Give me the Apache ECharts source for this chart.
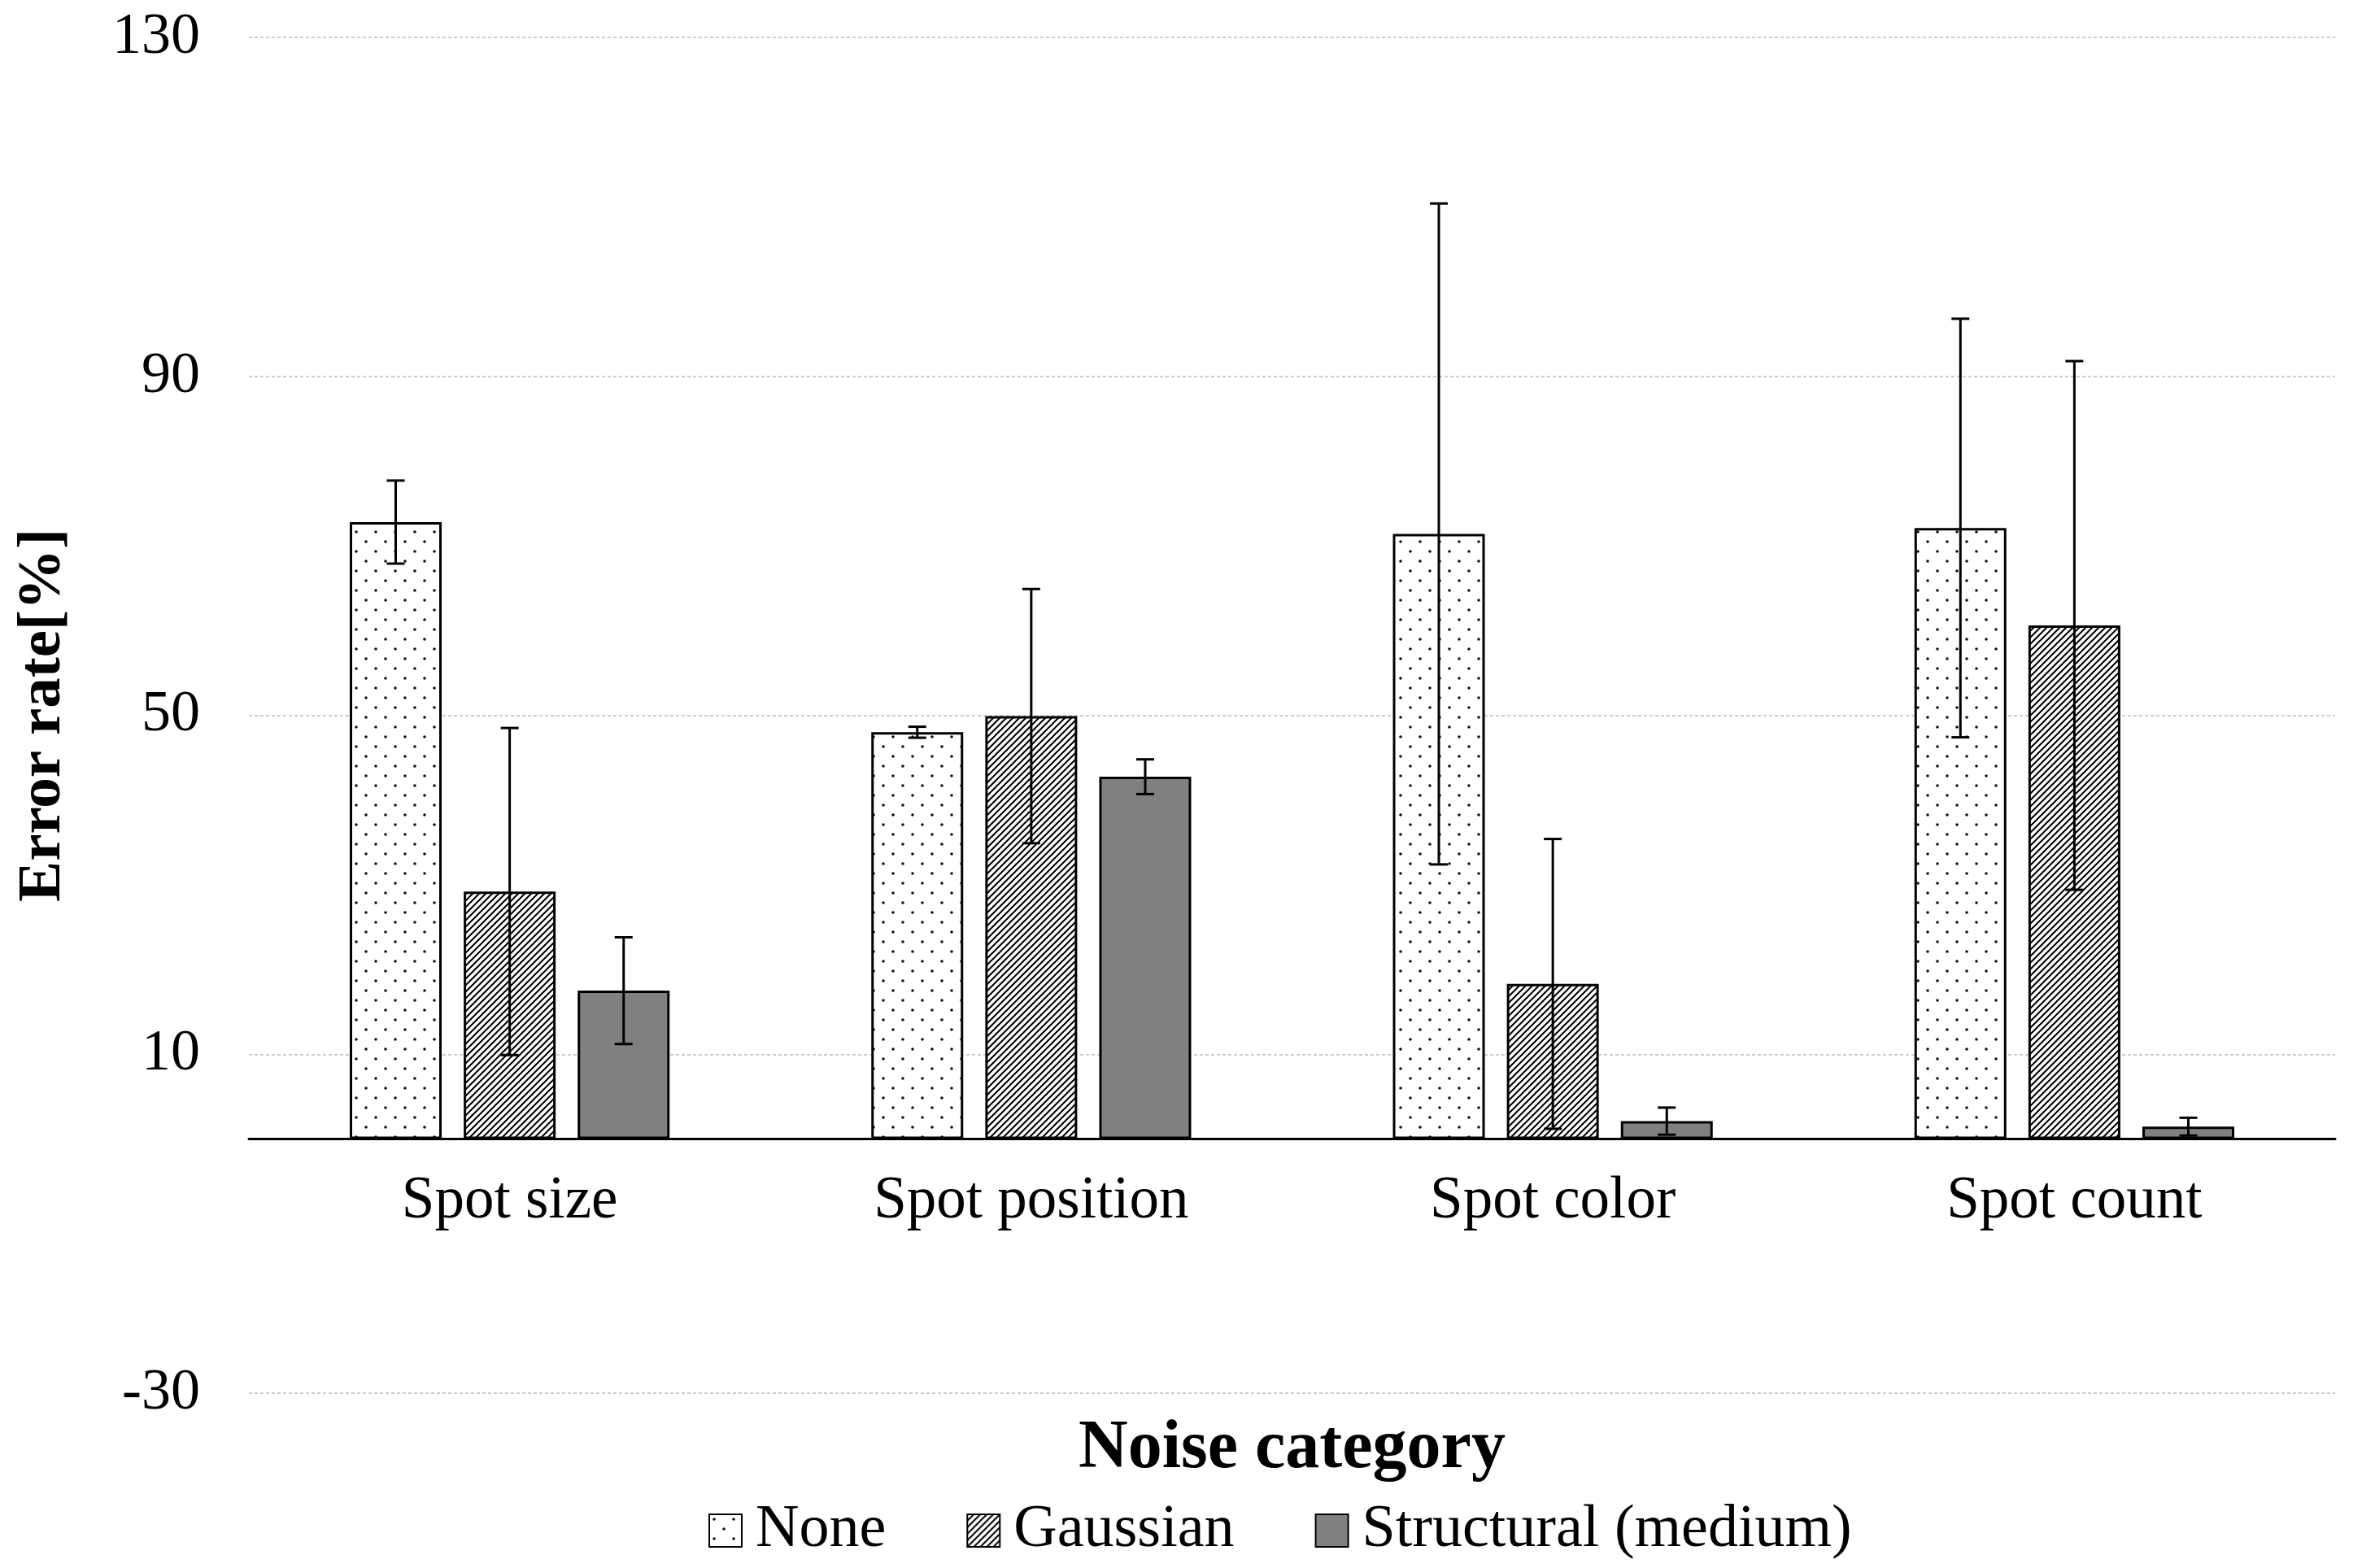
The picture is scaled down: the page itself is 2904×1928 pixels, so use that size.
<!DOCTYPE html>
<html><head><meta charset="utf-8">
<script src="https://cdn.jsdelivr.net/npm/echarts@6/dist/echarts.min.js"></script>
<style>html,body{margin:0;padding:0;background:#fff}#c{width:2904px;height:1928px}</style>
</head><body><div id="c"></div>
<script>
// ---- data ----
const categories = ['Spot size', 'Spot position', 'Spot color', 'Spot count'];
const seriesNames = ['None', 'Gaussian', 'Structural (medium)'];
const noneMean = [72.8, 48.0, 71.4, 72.1];
const noneErr = [4.9, 0.65, 39.0, 24.7];
const gaussMean = [29.2, 49.9, 18.3, 60.6];
const gaussErr = [19.3, 15.0, 17.1, 31.2];
const structMean = [17.5, 42.75, 2.1, 1.45];
const structErr = [6.3, 2.05, 1.6, 1.05];
const yTicks = [-30, 10, 50, 90, 130];

// ---- styles ----
const FONT = '"Liberation Serif", "Times New Roman", serif';
const BAR_W = 113;
const BAR_GAP = '24%';

function dotPattern() {
  const c = document.createElement('canvas'); c.width = 24; c.height = 24;
  const g = c.getContext('2d');
  g.fillStyle = '#fff'; g.fillRect(0, 0, 24, 24);
  g.fillStyle = '#111';
  [[6, 6], [18, 18]].forEach(([x, y]) => { g.beginPath(); g.arc(x, y, 1.8, 0, Math.PI * 2); g.fill(); });
  return c;
}
function hatchPattern() {
  const s = 8;
  const c = document.createElement('canvas'); c.width = s; c.height = s;
  const g = c.getContext('2d');
  g.fillStyle = '#fff'; g.fillRect(0, 0, s, s);
  g.strokeStyle = '#000'; g.lineWidth = 2;
  g.beginPath();
  g.moveTo(-1, s + 1); g.lineTo(s + 1, -1);
  g.moveTo(-1, 1); g.lineTo(1, -1);
  g.moveTo(s - 1, s + 1); g.lineTo(s + 1, s - 1);
  g.stroke();
  return c;
}
const fills = [
  { image: dotPattern(), repeat: 'repeat' },
  { image: hatchPattern(), repeat: 'repeat' },
  '#808080'
];
const means = [noneMean, gaussMean, structMean];
const errs = [noneErr, gaussErr, structErr];

const barSeries = seriesNames.map((n, k) => ({
  type: 'bar', name: n, data: means[k],
  barWidth: BAR_W, barGap: BAR_GAP,
  itemStyle: { color: fills[k], borderColor: '#000', borderWidth: 3 },
  emphasis: { disabled: true }
}));

const errSeries = seriesNames.map((n, k) => ({
  type: 'custom', name: n + ' error', z: 10, silent: true,
  data: categories.map((c, i) => [i, means[k][i] - errs[k][i], means[k][i] + errs[k][i]]),
  encode: { x: 0, y: [1, 2] },
  renderItem(params, api) {
    const ci = api.value(0);
    const lo = api.coord([ci, api.value(1)]);
    const hi = api.coord([ci, api.value(2)]);
    let off;
    if (api.barLayout) {
      const lay = api.barLayout({ barWidth: BAR_W, barGap: BAR_GAP, count: 3 });
      off = lay[k].offsetCenter;
    } else {
      off = (k - 1) * BAR_W * 1.24;
    }
    const x = lo[0] + off;
    const cap = 11;
    const st = { stroke: '#000', lineWidth: 3 };
    return {
      type: 'group', children: [
        { type: 'line', shape: { x1: x, y1: lo[1], x2: x, y2: hi[1] }, style: st },
        { type: 'line', shape: { x1: x - cap, y1: hi[1], x2: x + cap, y2: hi[1] }, style: st },
        { type: 'line', shape: { x1: x - cap, y1: lo[1], x2: x + cap, y2: lo[1] }, style: st }
      ]
    };
  }
}));

const chart = echarts.init(document.getElementById('c'), null, { renderer: 'canvas' });
chart.setOption({
  backgroundColor: '#fff',
  animation: false,
  grid: { left: 306, right: 33, top: 46, bottom: 215, containLabel: false, outerBoundsMode: 'none' },
  legend: {
    data: seriesNames.map(n => ({ name: n, icon: 'rect' })),
    left: 866, top: 1840,
    itemWidth: 40, itemHeight: 40, itemGap: 99,
    textStyle: { fontFamily: FONT, fontSize: 74, color: '#000', padding: [0, 0, 0, 12] },
    selectedMode: false
  },
  xAxis: {
    type: 'category', data: categories,
    name: 'Noise category', nameLocation: 'middle', nameGap: 27,
    nameTextStyle: { fontFamily: FONT, fontSize: 84, fontWeight: 'bold', color: '#000' },
    axisLine: { onZero: true, lineStyle: { color: '#000', width: 3 } },
    axisTick: { show: false },
    axisLabel: { fontFamily: FONT, fontSize: 73, color: '#000', margin: -272 },
    splitLine: { show: false }
  },
  yAxis: {
    type: 'value', min: yTicks[0], max: yTicks[yTicks.length - 1], interval: yTicks[1] - yTicks[0],
    name: 'Error rate[%]', nameLocation: 'middle', nameGap: 215, nameRotate: 90,
    nameTextStyle: { fontFamily: FONT, fontSize: 75, fontWeight: 'bold', color: '#000' },
    axisLine: { show: false }, axisTick: { show: false },
    axisLabel: { fontFamily: FONT, fontSize: 72, color: '#000', margin: 60 },
    splitLine: { lineStyle: { color: '#cccccc', width: 2, type: [4, 3] } }
  },
  series: [...barSeries, ...errSeries]
});
</script></body></html>
